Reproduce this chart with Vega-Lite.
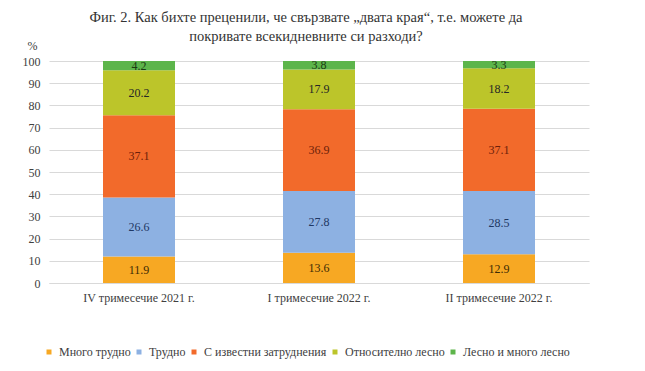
{
  "$schema": "https://vega.github.io/schema/vega-lite/v6.json",
  "width": 540,
  "height": 222,
  "autosize": "none",
  "padding": {"left": 49, "top": 61, "right": 56, "bottom": 88},
  "background": "white",
  "config": {
    "font": "Liberation Serif",
    "view": {"stroke": null},
    "axis": {
      "labelFont": "Liberation Serif",
      "titleFont": "Liberation Serif"
    },
    "legend": {"labelFont": "Liberation Serif"}
  },
  "title": {
    "text": ["Фиг. 2. Как бихте преценили,  че свързвате „двата края“, т.е. можете да", "покривате всекидневните си разходи?"],
    "font": "Liberation Serif",
    "fontSize": 14.5,
    "fontWeight": "normal",
    "color": "#333333",
    "lineHeight": 19,
    "anchor": "middle",
    "dx": -13,
    "dy": 19,
    "offset": 14
  },
  "data": {
    "values": [
      {"q": "IV тримесечие 2021 г.", "cat": "Много трудно", "k": 1, "v": 11.9},
      {"q": "IV тримесечие 2021 г.", "cat": "Трудно", "k": 2, "v": 26.6},
      {"q": "IV тримесечие 2021 г.", "cat": "С известни затруднения", "k": 3, "v": 37.1},
      {"q": "IV тримесечие 2021 г.", "cat": "Относително лесно", "k": 4, "v": 20.2},
      {"q": "IV тримесечие 2021 г.", "cat": "Лесно и много лесно", "k": 5, "v": 4.2},
      {"q": "I тримесечие 2022 г.", "cat": "Много трудно", "k": 1, "v": 13.6},
      {"q": "I тримесечие 2022 г.", "cat": "Трудно", "k": 2, "v": 27.8},
      {"q": "I тримесечие 2022 г.", "cat": "С известни затруднения", "k": 3, "v": 36.9},
      {"q": "I тримесечие 2022 г.", "cat": "Относително лесно", "k": 4, "v": 17.9},
      {"q": "I тримесечие 2022 г.", "cat": "Лесно и много лесно", "k": 5, "v": 3.8},
      {"q": "II тримесечие 2022 г.", "cat": "Много трудно", "k": 1, "v": 12.9},
      {"q": "II тримесечие 2022 г.", "cat": "Трудно", "k": 2, "v": 28.5},
      {"q": "II тримесечие 2022 г.", "cat": "С известни затруднения", "k": 3, "v": 37.1},
      {"q": "II тримесечие 2022 г.", "cat": "Относително лесно", "k": 4, "v": 18.2},
      {"q": "II тримесечие 2022 г.", "cat": "Лесно и много лесно", "k": 5, "v": 3.3}
    ]
  },
  "transform": [
    {"stack": "v", "groupby": ["q"], "sort": [{"field": "k", "order": "ascending"}], "as": ["y0", "y1"]},
    {"calculate": "(datum.y0 + datum.y1) / 2", "as": "ym"}
  ],
  "encoding": {
    "x": {
      "field": "q",
      "type": "nominal",
      "sort": ["IV тримесечие 2021 г.", "I тримесечие 2022 г.", "II тримесечие 2022 г."],
      "scale": {"paddingInner": 0.6, "paddingOuter": 0.3},
      "axis": {
        "title": null,
        "labelAngle": 0,
        "labelFont": "Liberation Serif",
        "labelFontSize": 12,
        "labelColor": "#404040",
        "labelPadding": 9,
        "ticks": false,
        "domainColor": "#d9d9d9"
      }
    }
  },
  "layer": [
    {
      "mark": {"type": "bar"},
      "encoding": {
        "y": {
          "field": "y0",
          "type": "quantitative",
          "scale": {"domain": [0, 100], "nice": false},
          "axis": {
            "title": "%",
            "titleAngle": 0,
            "titleX": -17,
            "titleY": -16,
            "titleAlign": "center",
            "titleBaseline": "middle",
            "titleFont": "Liberation Serif",
            "titleFontSize": 12,
            "titleFontWeight": "normal",
            "titleColor": "#404040",
            "values": [0, 10, 20, 30, 40, 50, 60, 70, 80, 90, 100],
            "labelOverlap": false,
            "labelFont": "Liberation Serif",
            "labelFontSize": 12,
            "labelColor": "#404040",
            "labelPadding": 9,
            "ticks": false,
            "domain": false,
            "gridColor": "#d9d9d9",
            "gridWidth": 1
          }
        },
        "y2": {"field": "y1"},
        "color": {
          "field": "cat",
          "type": "nominal",
          "scale": {
            "domain": ["Много трудно", "Трудно", "С известни затруднения", "Относително лесно", "Лесно и много лесно"],
            "range": ["#F7A823", "#8DB1E2", "#F26A2B", "#BCC52A", "#5DB54B"]
          },
          "legend": {
            "title": null,
            "orient": "none",
            "direction": "horizontal",
            "legendX": -6,
            "legendY": 285,
            "symbolType": "square",
            "symbolSize": 25,
            "symbolStrokeWidth": 0,
            "labelFont": "Liberation Serif",
            "labelFontSize": 12,
            "labelColor": "#404040",
            "labelOffset": 4,
            "columnPadding": 2
          }
        }
      }
    },
    {
      "mark": {"type": "text", "font": "Liberation Serif", "fontSize": 12, "baseline": "middle"},
      "encoding": {
        "y": {
          "field": "ym",
          "type": "quantitative",
          "axis": {
            "title": "%",
            "titleAngle": 0,
            "titleX": -17,
            "titleY": -16,
            "titleAlign": "center",
            "titleBaseline": "middle",
            "titleFont": "Liberation Serif",
            "titleFontSize": 12,
            "titleFontWeight": "normal",
            "titleColor": "#404040",
            "values": [0, 10, 20, 30, 40, 50, 60, 70, 80, 90, 100],
            "labelOverlap": false,
            "labelFont": "Liberation Serif",
            "labelFontSize": 12,
            "labelColor": "#404040",
            "labelPadding": 9,
            "ticks": false,
            "domain": false,
            "gridColor": "#d9d9d9",
            "gridWidth": 1
          }
        },
        "text": {"field": "v", "type": "quantitative", "format": ".1f"},
        "color": {
          "field": "cat",
          "type": "nominal",
          "scale": {
            "domain": ["Много трудно", "Трудно", "С известни затруднения", "Относително лесно", "Лесно и много лесно"],
            "range": ["#3d2b05", "#1f3864", "#6b1f0a", "#262626", "#1c3a12"]
          },
          "legend": null
        }
      }
    }
  ],
  "resolve": {"scale": {"color": "independent"}}
}
